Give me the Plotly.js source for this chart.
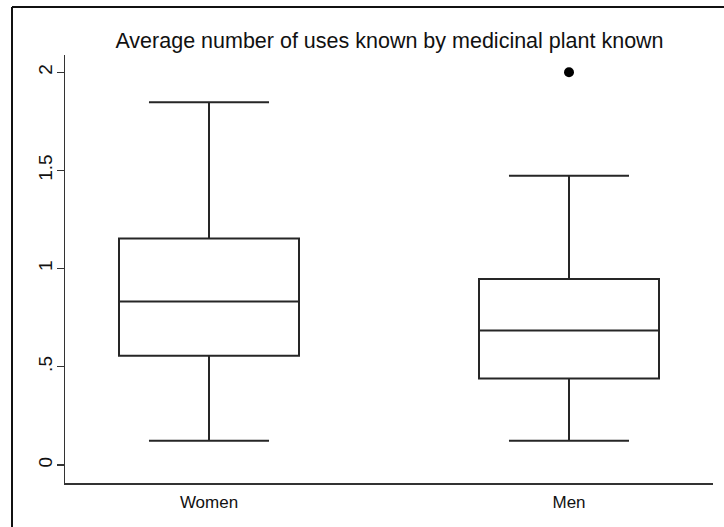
<!DOCTYPE html>
<html>
<head>
<meta charset="utf-8">
<script src="https://cdn.plot.ly/plotly-3.0.1.min.js"></script>
<style>html,body{margin:0;padding:0;background:#fff;}#chart{width:724px;height:527px;}</style>
</head>
<body>
<div id="chart"></div>
<script>
// Data
const groups = ["Women", "Men"];
const lowerWhisker = [0.124, 0.124];
const q1Values = [0.556, 0.441];
const medianValues = [0.832, 0.685];
const q3Values = [1.154, 0.947];
const upperWhisker = [1.847, 1.473];
const outlierGroup = ["Men"];
const outlierValues = [2.0];
const yTickVals = [0, 0.5, 1, 1.5, 2];
const yTickText = ["0", ".5", "1", "1.5", "2"];
const titleText = "Average number of uses known by medicinal plant known";

const FONT = '"Liberation Sans", Arial, Helvetica, sans-serif';
const INK = '#262626';

const traces = [
  {
    type: 'box',
    x: groups,
    q1: q1Values,
    median: medianValues,
    q3: q3Values,
    lowerfence: lowerWhisker,
    upperfence: upperWhisker,
    boxpoints: false,
    width: 0.5,
    whiskerwidth: 0.667,
    fillcolor: 'rgba(255,255,255,0)',
    line: {color: INK, width: 2},
    showlegend: false,
    hoverinfo: 'skip'
  },
  {
    type: 'scatter',
    mode: 'markers',
    x: outlierGroup,
    y: outlierValues,
    marker: {color: '#000', size: 10},
    showlegend: false,
    hoverinfo: 'skip'
  }
];

// plot area: x 65..713, y 55..483 (pixels)
const L = 65, R = 11, T = 55, B = 44;
const W = 724 - L - R, H = 527 - T - B;
const px = v => (v - L) / W;
const py = v => (527 - B - v) / H;

const layout = {
  width: 724,
  height: 527,
  margin: {l: L, r: R, t: T, b: B, pad: 0},
  paper_bgcolor: '#fff',
  plot_bgcolor: '#fff',
  font: {family: FONT, color: '#111'},
  title: {
    text: titleText,
    font: {family: FONT, size: 21.5, color: '#111'},
    x: px(389.5), xref: 'paper', xanchor: 'center',
    y: 1 - 40 / 527, yref: 'container', yanchor: 'middle'
  },
  xaxis: {
    type: 'category',
    range: [-0.4, 1.4],
    showgrid: false,
    zeroline: false,
    showline: true,
    linecolor: '#333',
    linewidth: 1.5,
    ticks: '',
    tickfont: {family: FONT, size: 17, color: '#111'},
    ticklabelstandoff: 3,
    fixedrange: true
  },
  yaxis: {
    range: [-0.0917, 2.088],
    tickvals: yTickVals,
    ticktext: yTickText,
    tickangle: -90,
    showgrid: false,
    zeroline: false,
    showline: true,
    linecolor: '#333',
    linewidth: 1.5,
    ticks: 'outside',
    ticklen: 7,
    tickwidth: 1.2,
    tickcolor: '#333',
    tickfont: {family: FONT, size: 19, color: '#111'},
    ticklabelstandoff: -3,
    fixedrange: true
  },
  shapes: [
    {type: 'line', xref: 'paper', yref: 'paper', x0: px(12), x1: px(12), y0: py(7), y1: py(540), line: {color: '#111', width: 2}},
    {type: 'line', xref: 'paper', yref: 'paper', x0: px(12), x1: px(740), y0: py(7), y1: py(7), line: {color: '#111', width: 2}}
  ]
};

Plotly.newPlot('chart', traces, layout, {displayModeBar: false, staticPlot: true});
</script>
</body>
</html>
